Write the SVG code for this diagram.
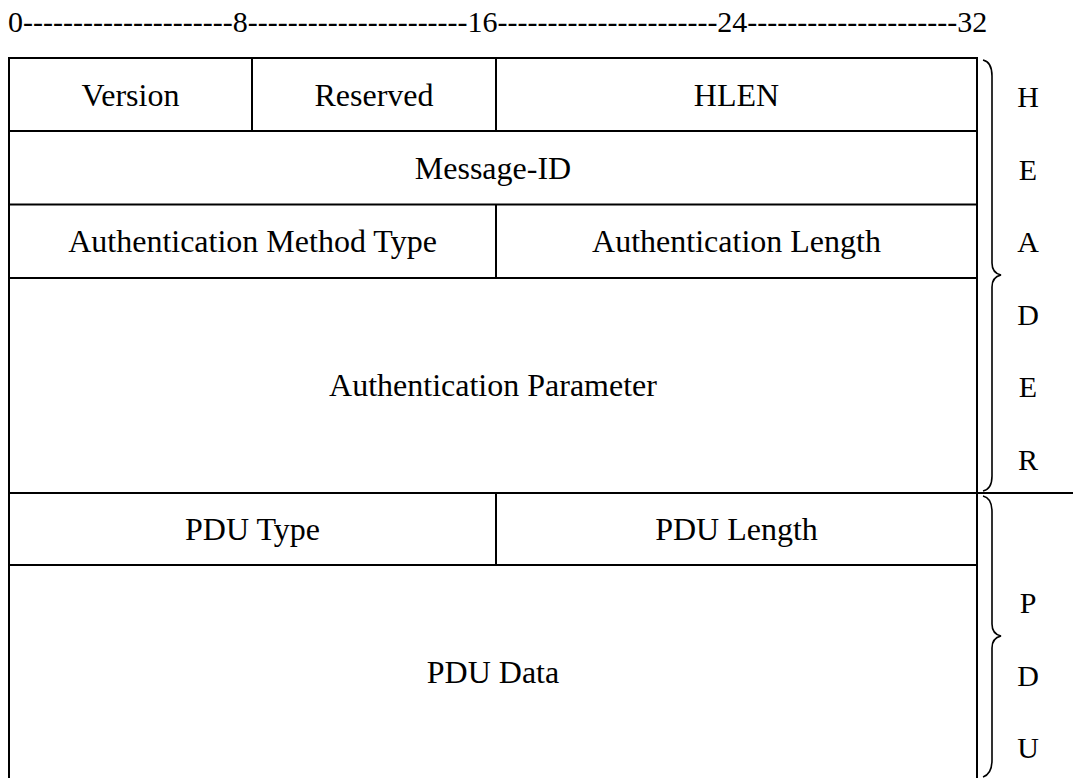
<svg xmlns="http://www.w3.org/2000/svg" width="1073" height="778" viewBox="0 0 1073 778">
<style>
  text { font-family: "Liberation Serif", "Times New Roman", serif; fill: #000; }
  .cell { font-size: 32px; text-anchor: middle; }
  .ruler { font-size: 30px; }
  .side { font-size: 30px; text-anchor: middle; }
  .grid { stroke: #000; stroke-width: 2; fill: none; }
  .brace { stroke: #000; stroke-width: 1.6; fill: none; }
</style>
<rect x="0" y="0" width="1073" height="778" fill="#fff"/>
<text class="ruler" x="8" y="31.5">0---------------------8----------------------16----------------------24---------------------32</text>

<g id="table-frame">
  <rect class="grid" x="9" y="58" width="968" height="730"/>
</g>
<g id="row-version">
  <line class="grid" x1="9" y1="131" x2="977" y2="131"/>
  <line class="grid" x1="252" y1="58" x2="252" y2="131"/>
  <line class="grid" x1="496" y1="58" x2="496" y2="131"/>
</g>
<g id="cell-version"><text class="cell" x="130.5" y="106">Version</text></g>
<g id="cell-reserved"><text class="cell" x="374" y="106">Reserved</text></g>
<g id="cell-hlen"><text class="cell" x="736.5" y="106">HLEN</text></g>
<g id="cell-message-id">
  <line class="grid" x1="9" y1="204.5" x2="977" y2="204.5"/>
  <text class="cell" x="493" y="179">Message-ID</text>
</g>
<g id="row-auth">
  <line class="grid" x1="9" y1="278" x2="977" y2="278"/>
  <line class="grid" x1="496" y1="204.5" x2="496" y2="278"/>
</g>
<g id="cell-auth-method"><text class="cell" x="252.5" y="252">Authentication Method Type</text></g>
<g id="cell-auth-length"><text class="cell" x="736.5" y="252">Authentication Length</text></g>
<g id="cell-auth-param"><text class="cell" x="493" y="396">Authentication Parameter</text></g>
<g id="row-pdu">
  <line class="grid" x1="9" y1="493" x2="1073" y2="493"/>
  <line class="grid" x1="9" y1="565" x2="977" y2="565"/>
  <line class="grid" x1="496" y1="493" x2="496" y2="565"/>
</g>
<g id="cell-pdu-type"><text class="cell" x="252.5" y="540">PDU Type</text></g>
<g id="cell-pdu-length"><text class="cell" x="736.5" y="540">PDU Length</text></g>
<g id="cell-pdu-data"><text class="cell" x="493" y="683">PDU Data</text></g>

<g id="connectors">
  <path class="brace" d="M 983 60 Q 992 62 992 76 L 992 263 Q 992 273 1001 275 Q 992 277 992 287 L 992 476 Q 992 489 983 491"/>
  <path class="brace" d="M 983 496 Q 992 498 992 512 L 992 624 Q 992 634 1001 636 Q 992 638 992 648 L 992 760 Q 992 774 983 777"/>
</g>

<g id="label-header">
  <text class="side" x="1028" y="107">H</text>
  <text class="side" x="1028" y="179.5">E</text>
  <text class="side" x="1028" y="252">A</text>
  <text class="side" x="1028" y="324.5">D</text>
  <text class="side" x="1028" y="397">E</text>
  <text class="side" x="1028" y="469.5">R</text>
</g>
<g id="label-pdu">
  <text class="side" x="1028" y="613">P</text>
  <text class="side" x="1028" y="685.5">D</text>
  <text class="side" x="1028" y="758">U</text>
</g>
</svg>
